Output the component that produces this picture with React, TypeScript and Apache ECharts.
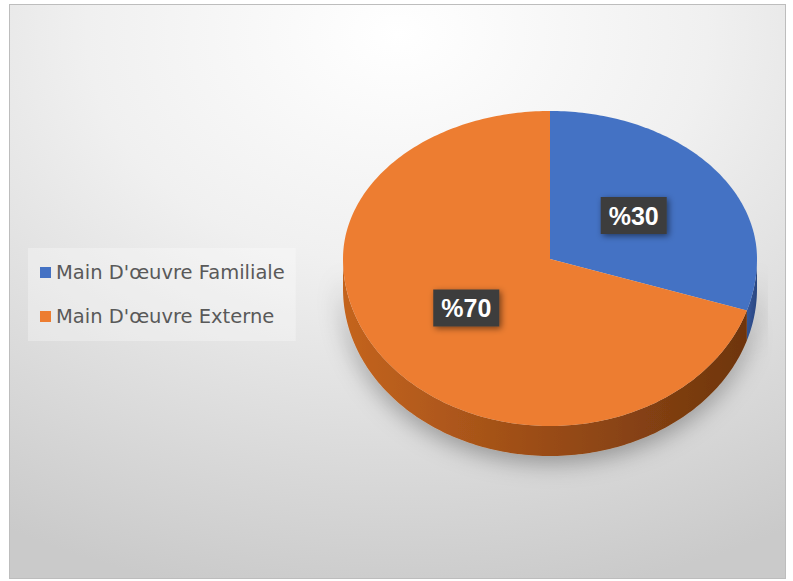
import React, { useEffect, useRef } from "react";
import * as echarts from "echarts";

const categories = ["Main D'œuvre Familiale", "Main D'œuvre Externe"];
const values = [30, 70];
const labelPrefix = "%";
const topColors = ["#4472C4", "#ED7D31"];
const sideColors = [
  ["#35599f", "#2a4680"],
  ["#c4641f", "#9a4c16", "#6e350e"],
];

export default function App() {
  const ref = useRef<HTMLDivElement>(null);
  useEffect(() => {
    const chart = echarts.init(ref.current!, null, { renderer: "svg" });
    const total = values.reduce((a, b) => a + b, 0);
    const CX = 540, CY = 254, RX = 207, RYT = 148, RYB = 167, DEPTH = 30;
    const pt = (th: number, f: number, dy: number) => {
      const s = Math.sin(th), c = Math.cos(th);
      return [CX + f * RX * s, CY - f * (c >= 0 ? RYT : RYB) * c + dy];
    };
    const arc = (a0: number, a1: number, f: number, dy: number) => {
      const n = Math.max(2, Math.ceil((a1 - a0) / (Math.PI / 180)));
      const out: number[][] = [];
      for (let i = 0; i <= n; i++) out.push(pt(a0 + ((a1 - a0) * i) / n, f, dy));
      return out;
    };
    const series = categories.map((name, i) => {
      const start = (values.slice(0, i).reduce((a, b) => a + b, 0) / total) * 2 * Math.PI;
      const end = start + (values[i] / total) * 2 * Math.PI;
      return {
        type: "custom",
        name,
        coordinateSystem: "none",
        data: [values[i]],
        itemStyle: { color: topColors[i] },
        renderItem: (params: any, api: any) => {
          const children: any[] = [];
          const s = Math.max(start, Math.PI / 2), e = Math.min(end, (3 * Math.PI) / 2);
          if (e > s) {
            const top = arc(s, e, 1, 0);
            const bot = arc(s, e, 1, DEPTH).reverse();
            const stops = sideColors[i].map((c, k, arr) => ({ offset: k / (arr.length - 1), color: c }));
            children.push({
              type: "polygon",
              shape: { points: top.concat(bot) },
              style: {
                fill: new echarts.graphic.LinearGradient(0, 0, 1, 0, stops),
                shadowBlur: 24,
                shadowColor: "rgba(0,0,0,0.35)",
                shadowOffsetY: 6,
              },
              silent: true,
            });
          }
          children.push({
            type: "polygon",
            shape: { points: [[CX, CY]].concat(arc(start, end, 1, 0)) },
            style: { fill: topColors[i] },
          });
          const mid = (start + end) / 2;
          const lp = pt(mid, 0.5, 0);
          children.push({
            type: "text",
            x: lp[0],
            y: lp[1],
            z2: 10,
            style: {
              text: labelPrefix + api.value(0),
              align: "center",
              verticalAlign: "middle",
              fill: "#ffffff",
              font: 'bold 25px "Liberation Sans", Arial, sans-serif',
              lineHeight: 25,
              backgroundColor: "#3d3d3d",
              padding: [6, 8],
              shadowBlur: 6,
              shadowColor: "rgba(0,0,0,0.5)",
              shadowOffsetX: 2,
              shadowOffsetY: 2,
            },
          });
          return { type: "group", children };
        },
      };
    });
    chart.setOption({
      animation: false,
      backgroundColor: {
        type: "radial",
        x: 0.5,
        y: 0.05,
        r: 1,
        colorStops: [
          { offset: 0, color: "#ffffff" },
          { offset: 0.4, color: "#f0f0f0" },
          { offset: 1, color: "#cacaca" },
        ],
      },
      legend: {
        data: categories,
        orient: "vertical",
        left: 18,
        top: 243,
        icon: "rect",
        itemWidth: 11,
        itemHeight: 11,
        itemGap: 23,
        padding: [14, 11, 14, 12],
        backgroundColor: "rgba(255,255,255,0.3)",
        textStyle: { color: "#595959", fontSize: 19.5, fontFamily: "DejaVu Sans", lineHeight: 21 },
      },
      series,
    } as any);
    return () => chart.dispose();
  }, []);
  return (
    <div style={{ position: "absolute", left: 9, top: 4, width: 775, height: 573, border: "1px solid #bdbdbd" }}>
      <div ref={ref} style={{ width: 775, height: 573 }} />
    </div>
  );
}
